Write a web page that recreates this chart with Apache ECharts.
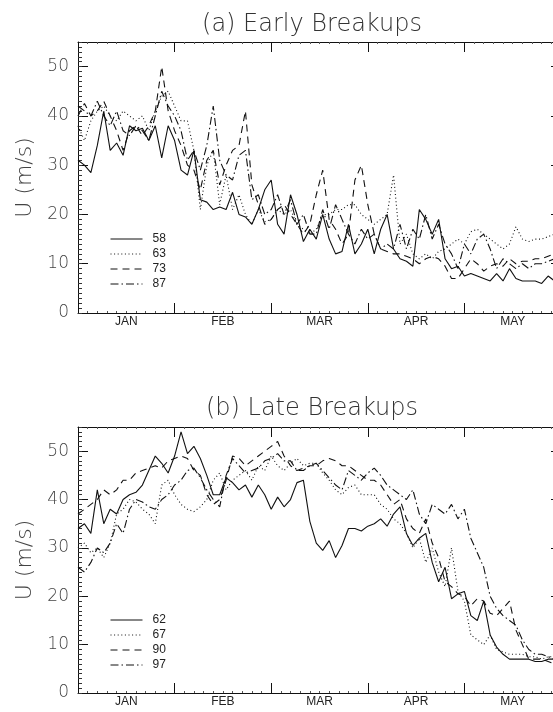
<!DOCTYPE html>
<html>
<head>
<meta charset="utf-8">
<title>Zonal wind U, early and late breakups</title>
<script src="https://cdn.jsdelivr.net/npm/echarts@6.0.0/dist/echarts.min.js"></script>
<style>
  html, body { margin: 0; padding: 0; background: #fff; }
  #chart { width: 553px; height: 712px; }
</style>
</head>
<body>
<div id="chart"></div>
<script>
// Day index from 1 January (30-day months on the axis), sampled every 2 days
const days = [
  0, 2, 4, 6, 8, 10, 12, 14, 16, 18,
  20, 22, 24, 26, 28, 30, 32, 34, 36, 38,
  40, 42, 44, 46, 48, 50, 52, 54, 56, 58,
  60, 62, 64, 66, 68, 70, 72, 74, 76, 78,
  80, 82, 84, 86, 88, 90, 92, 94, 96, 98,
  100, 102, 104, 106, 108, 110, 112, 114, 116, 118,
  120, 122, 124, 126, 128, 130, 132, 134, 136, 138,
  140, 142, 144, 146, 148, 150
];
const months = ['JAN', 'FEB', 'MAR', 'APR', 'MAY'];
const yTicks = [0, 10, 20, 30, 40, 50];

// (a) Early breakups, U in m/s
const early58 = [
  31, 30, 28.5, 34, 41, 33, 34.5, 32, 38, 37,
  37.5, 35, 38, 31.5, 38, 35, 29, 28, 33, 23,
  22.5, 21, 21.5, 21, 24.5, 20, 19.5, 18, 21, 25,
  27, 18, 16, 24, 20, 14.5, 17, 15, 20, 15,
  12, 12.5, 18, 12, 14, 17, 12, 17, 20, 13,
  11, 10.5, 9.5, 21, 19, 16, 19, 11, 9, 9.5,
  7.5, 8, 7.5, 7, 6.5, 8, 6.5, 9, 7, 6.5,
  6.5, 6.5, 6, 7.5, 6.5, 8
];
const early63 = [
  38, 35, 39, 41, 42, 40, 39, 41, 40, 39,
  40, 37, 41, 44, 45, 42, 39, 39, 33, 21,
  30, 33, 22, 28, 21, 24, 20, 18, 21, 18.5,
  19, 21, 20, 21, 18, 17, 16, 17, 20, 20,
  21, 21, 22, 22, 20, 19, 18, 19, 20, 28,
  14, 16, 12, 11, 12, 11, 12.5, 13, 14, 15,
  14, 16.5, 17, 16, 15, 14, 13, 14, 17.5, 15,
  14.5, 15, 15, 15.5, 16, 16.5
];
const early73 = [
  40, 42.5, 40, 41, 43, 40, 37, 33, 37, 38,
  36, 38, 41, 50, 41, 37, 34, 30, 29, 25,
  31, 33, 26, 30, 33, 34, 41, 26, 22, 18,
  19, 21, 22, 20, 18, 16, 18, 24, 29, 19,
  17, 14, 16, 27, 30, 22, 16, 13, 12.5, 12,
  12, 11.5, 11, 10, 11, 11.5, 11, 9.5, 7, 7,
  9, 11, 10, 8.5, 9.5, 10, 9.5, 11, 10, 10.5,
  10.5, 11, 11, 11.5, 12, 12.5
];
const early87 = [
  42, 41, 40, 43, 40, 38, 41, 37, 36, 38,
  37, 35, 40, 45, 42, 40, 37, 31, 33, 29,
  34, 42, 31, 28, 27, 32, 33, 23, 24, 20,
  21, 24, 20, 23, 18, 20, 16, 16, 21, 17,
  22, 19, 16, 14, 17, 15, 16, 13, 14, 13,
  18, 13, 17, 15, 20, 15, 18, 14, 12, 9,
  14, 12, 15, 16, 13, 9, 11, 10, 9, 10,
  9, 10, 10, 10.5, 11, 11
];

// (b) Late breakups, U in m/s
const late62 = [
  34, 35, 33, 42, 35, 38, 37, 40, 41, 41.5,
  43, 46, 49, 47.5, 45.5, 49, 54, 49.5, 51, 48.5,
  45, 41, 41, 44.5, 43.5, 42, 43, 40.5, 43, 41,
  38, 40.5, 38.5, 40, 43.5, 44, 35.5, 31, 29.5, 31.5,
  28, 30.5, 34, 34, 33.5, 34.5, 35, 36, 34.5, 37,
  38.5, 33, 30.5, 32, 33, 27, 23, 26, 19.5, 20.5,
  21, 16, 15, 19, 12, 9.5, 8, 7, 7, 7,
  7, 6.5, 6.5, 7, 7, 7.5
];
const late67 = [
  30, 31, 29, 30, 28, 31, 37, 38, 40, 39.5,
  38, 37, 35, 43, 44, 41, 39, 38, 37.5, 38.5,
  40, 44, 45.5, 42, 44, 45, 46, 44, 47, 46,
  49, 47, 46, 47.5, 48.5, 47, 47.5, 47.5, 45.5, 44,
  42, 41, 42.5, 43, 41, 41, 41, 39, 38, 36,
  35, 33, 30, 32, 27, 30, 25, 22, 30, 21,
  19, 12, 11, 10, 12, 9, 8.5, 8, 8, 8,
  7.5, 7.5, 7, 7.5, 7.5, 7.5
];
const late90 = [
  37, 38, 39, 40, 42, 41, 42, 44, 44, 45.5,
  46, 46.5, 47, 46.5, 48, 48.5, 49, 48.5, 46, 45,
  41, 39, 40, 44, 49, 48.5, 47, 48, 49, 50,
  51, 52, 49, 47, 46, 46.5, 47, 47, 48, 48.5,
  48, 47, 47, 46, 45, 44, 44, 43, 41, 39,
  40, 36, 34, 33, 36, 31, 28, 23, 22, 20.5,
  20, 18, 19.5, 19, 16.5, 16, 17.5, 19, 13, 10,
  7, 7, 7, 6.5, 6, 6
];
const late97 = [
  26, 25, 27, 30, 29, 31, 35, 33, 38, 40,
  39.5, 38.5, 38, 40, 41, 43, 44, 46, 46.5, 44.5,
  42, 40, 38.5, 45, 48.5, 47, 45.5, 46, 46.5, 48,
  48.5, 49.5, 48, 48, 46, 46, 47, 47.5, 46, 44.5,
  43, 42, 46, 45, 44, 45.5, 46.5, 45, 43, 42,
  41, 40, 42, 37, 35, 39, 38, 37, 39, 36,
  38, 32, 29, 26, 20, 17.5, 16, 15, 14, 11,
  9, 8, 8, 7.5, 7, 7
];

const panels = [
  { title: '(a) Early Breakups', names: ['58', '63', '73', '87'], values: [early58, early63, early73, early87] },
  { title: '(b) Late Breakups',  names: ['62', '67', '90', '97'], values: [late62, late67, late90, late97] }
];

// Line patterns: solid, dotted, dashed, dash-dot
const patterns = ['solid', [1, 2.6], [7, 5], [8, 3, 1.5, 3]];

// Plot boxes in pixels; the right frame sits just past the page edge
const boxes = [
  { left: 78, top: 42, width: 483, height: 271, legendTop: 233, titleTop: 13 },
  { left: 78, top: 427, width: 483, height: 266, legendTop: 614, titleTop: 397 }
];

const thinFont = 'DejaVu Sans';
const labelFont = 'Liberation Sans';
const ink = '#111';

const grid = [], xAxis = [], yAxis = [], series = [], legend = [], title = [];

panels.forEach((p, k) => {
  const b = boxes[k];
  grid.push({ left: b.left, top: b.top, width: b.width, height: b.height, outerBoundsMode: 'none', containLabel: false });

  title.push({
    text: p.title, left: 312, top: b.titleTop, textAlign: 'center', padding: 0,
    textStyle: { fontFamily: thinFont, fontSize: 24, fontWeight: 'lighter', color: '#333' }
  });

  const xBase = xAxis.length;
  // bottom frame with month ticks
  xAxis.push({
    gridIndex: k, type: 'value', min: 0, max: 150, interval: 30, position: 'bottom',
    axisLine: { show: true, onZero: false, lineStyle: { color: ink, width: 1 } },
    axisTick: { show: true, inside: true, length: 10, lineStyle: { color: ink } },
    minorTick: { show: true, splitNumber: 10, length: 2, lineStyle: { color: '#555' } },
    axisLabel: { show: false }, splitLine: { show: false }
  });
  // month names centred in each month
  xAxis.push({
    gridIndex: k, type: 'category', data: months, position: 'bottom', boundaryGap: true,
    axisLine: { show: false }, axisTick: { show: false }, splitLine: { show: false },
    axisLabel: { fontFamily: labelFont, fontSize: 12, color: '#222', margin: 3 }
  });
  // top frame
  xAxis.push({
    gridIndex: k, type: 'value', min: 0, max: 150, interval: 30, position: 'top',
    axisLine: { show: true, onZero: false, lineStyle: { color: ink, width: 1 } },
    axisTick: { show: true, inside: true, length: 10, lineStyle: { color: ink } },
    minorTick: { show: true, splitNumber: 10, length: 2, lineStyle: { color: '#555' } },
    axisLabel: { show: false }, splitLine: { show: false }
  });

  const yBase = yAxis.length;
  yAxis.push({
    gridIndex: k, type: 'value', min: 0, max: 55, interval: 10, position: 'left',
    axisLine: { show: true, onZero: false, lineStyle: { color: ink, width: 1 } },
    axisTick: { show: true, inside: true, length: 10, lineStyle: { color: ink } },
    axisLabel: {
      fontFamily: thinFont, fontSize: 17, fontWeight: 'lighter', color: '#444', margin: 9,
      showMaxLabel: false,
      formatter: v => (yTicks.indexOf(v) >= 0 ? String(v) : '')
    },
    splitLine: { show: false },
    name: 'U (m/s)', nameLocation: 'middle', nameGap: 41,
    nameTextStyle: { fontFamily: thinFont, fontSize: 22, fontWeight: 'lighter', color: '#444' }
  });
  // unit ticks along the left frame
  yAxis.push({
    gridIndex: k, type: 'value', min: 0, max: 55, interval: 1, position: 'left',
    axisLine: { show: false },
    axisTick: { show: true, inside: true, length: 4, lineStyle: { color: '#333' } },
    axisLabel: { show: false }, splitLine: { show: false }
  });
  // right frame
  yAxis.push({
    gridIndex: k, type: 'value', min: 0, max: 55, interval: 10, position: 'right',
    axisLine: { show: true, onZero: false, lineStyle: { color: ink, width: 1 } },
    axisTick: { show: true, inside: true, length: 10, lineStyle: { color: ink } },
    axisLabel: { show: false }, splitLine: { show: false }
  });

  p.names.forEach((name, j) => {
    series.push({
      name: name, type: 'line', xAxisIndex: xBase, yAxisIndex: yBase,
      data: days.map((d, i) => [d, p.values[j][i]]),
      symbol: 'none', showSymbol: false, silent: true, animation: false,
      lineStyle: { color: ink, width: 1.1, type: patterns[j] },
      itemStyle: { color: ink }
    });
  });

  // legend keys: thin line pattern only, no point marker
  legend.push({
    data: p.names, orient: 'vertical', left: 110, top: b.legendTop,
    itemWidth: 32, itemHeight: 12, itemGap: 3, selectedMode: false, padding: 0,
    itemStyle: { opacity: 0 },
    lineStyle: { width: 1 },
    textStyle: { fontFamily: labelFont, fontSize: 12, color: '#222', padding: [0, 0, 0, 5] }
  });
});

const chart = echarts.init(document.getElementById('chart'), null, { renderer: 'canvas' });
chart.setOption({
  backgroundColor: '#fff',
  animation: false,
  title, grid, xAxis, yAxis, series, legend
});
</script>
</body>
</html>
